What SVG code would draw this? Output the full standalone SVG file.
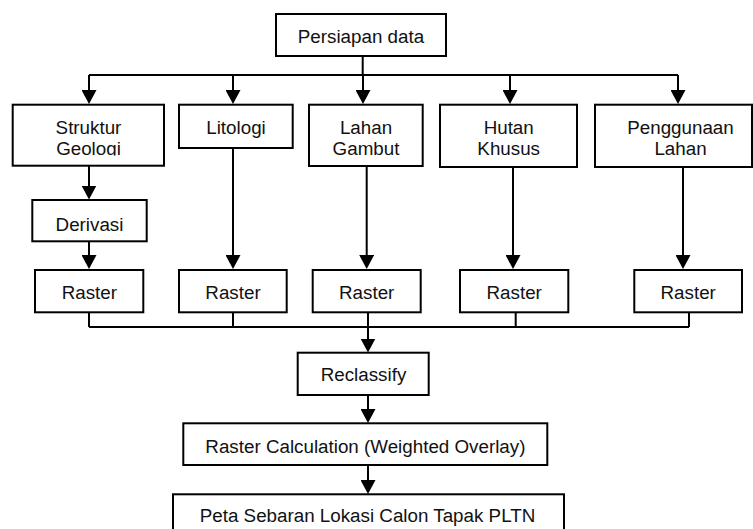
<svg xmlns="http://www.w3.org/2000/svg" width="753" height="529" viewBox="0 0 753 529">
<style>
.box{fill:#fff;stroke:#000;stroke-width:2}
.t{font-family:"Liberation Sans",Arial,sans-serif;font-size:18.8px;fill:#111;text-anchor:middle}
.c{fill:none;stroke:#000;stroke-width:2}
</style>
<defs>
<marker id="ah" markerUnits="userSpaceOnUse" markerWidth="15" markerHeight="15" refX="10" refY="7.5" orient="auto">
<path d="M0,0 L14,7.5 L0,15 z" fill="#000"/>
</marker>
<clipPath id="clipGeo"><rect x="13" y="106" width="150" height="49.5"/></clipPath>
</defs>
<rect width="753" height="529" fill="#fff"/>
<g id="connectors">
<path class="c" d="M362.7,56 V75 M89,75 H678"/>
<path class="c" marker-end="url(#ah)" d="M89,75 V100"/>
<path class="c" marker-end="url(#ah)" d="M233,75 V100"/>
<path class="c" marker-end="url(#ah)" d="M363,75 V100"/>
<path class="c" marker-end="url(#ah)" d="M510,75 V100"/>
<path class="c" marker-end="url(#ah)" d="M678,75 V100"/>
<path class="c" marker-end="url(#ah)" d="M89,166 V195.5"/>
<path class="c" marker-end="url(#ah)" d="M89,241.3 V265"/>
<path class="c" marker-end="url(#ah)" d="M233,148 V265"/>
<path class="c" marker-end="url(#ah)" d="M366.7,166 V265"/>
<path class="c" marker-end="url(#ah)" d="M513,167 V265"/>
<path class="c" marker-end="url(#ah)" d="M683,167 V265"/>
<path class="c" d="M89,312 V327 M233,312 V327 M368,312 V327 M515.7,312 V327 M689,312 V327 M89,327 H689"/>
<path class="c" marker-end="url(#ah)" d="M368,327 V348.5"/>
<path class="c" marker-end="url(#ah)" d="M368,395 V419"/>
<path class="c" marker-end="url(#ah)" d="M368,465 V490"/>
</g>
<g id="persiapan"><rect class="box" x="276" y="14" width="170" height="42"/><text class="t" x="361" y="43.3">Persiapan data</text></g>
<g id="struktur"><rect class="box" x="12.7" y="104.7" width="151.3" height="61"/><g clip-path="url(#clipGeo)"><text class="t" x="88.5" y="134">Struktur</text><text class="t" x="88.5" y="154.5">Geologi</text></g></g>
<g id="litologi"><rect class="box" x="179" y="104.7" width="113.7" height="43.3"/><text class="t" x="236" y="134">Litologi</text></g>
<g id="lahan"><rect class="box" x="309" y="104.7" width="113.7" height="61.3"/><text class="t" x="366" y="134.3">Lahan</text><text class="t" x="366" y="155">Gambut</text></g>
<g id="hutan"><rect class="box" x="440" y="104.7" width="137" height="62.3"/><text class="t" x="508.7" y="134.3">Hutan</text><text class="t" x="508.7" y="155">Khusus</text></g>
<g id="penggunaan"><rect class="box" x="595" y="104.7" width="157" height="62.3"/><text class="t" x="680.5" y="134.3">Penggunaan</text><text class="t" x="680.5" y="155">Lahan</text></g>
<g id="derivasi"><rect class="box" x="32.3" y="200" width="114.4" height="41.3"/><text class="t" x="89.5" y="230.5">Derivasi</text></g>
<g id="raster1"><rect class="box" x="35" y="270" width="108.3" height="42.3"/><text class="t" x="89.3" y="299.3">Raster</text></g>
<g id="raster2"><rect class="box" x="179" y="270" width="107.7" height="42.3"/><text class="t" x="233" y="299.3">Raster</text></g>
<g id="raster3"><rect class="box" x="312.7" y="270" width="108" height="42.3"/><text class="t" x="366.7" y="299.3">Raster</text></g>
<g id="raster4"><rect class="box" x="460" y="270" width="108.3" height="42.3"/><text class="t" x="514.2" y="299.3">Raster</text></g>
<g id="raster5"><rect class="box" x="634.3" y="270" width="107.7" height="42.3"/><text class="t" x="688.2" y="299.3">Raster</text></g>
<g id="reclassify"><rect class="box" x="297.7" y="352.7" width="131" height="42.3"/><text class="t" x="363.5" y="381">Reclassify</text></g>
<g id="rastercalc"><rect class="box" x="183.3" y="423.3" width="364" height="41.7"/><text class="t" x="365.4" y="452.7">Raster Calculation (Weighted Overlay)</text></g>
<g id="peta"><rect class="box" x="173" y="494.3" width="391" height="50"/><text class="t" x="367.5" y="521.5">Peta Sebaran Lokasi Calon Tapak PLTN</text></g>
</svg>
